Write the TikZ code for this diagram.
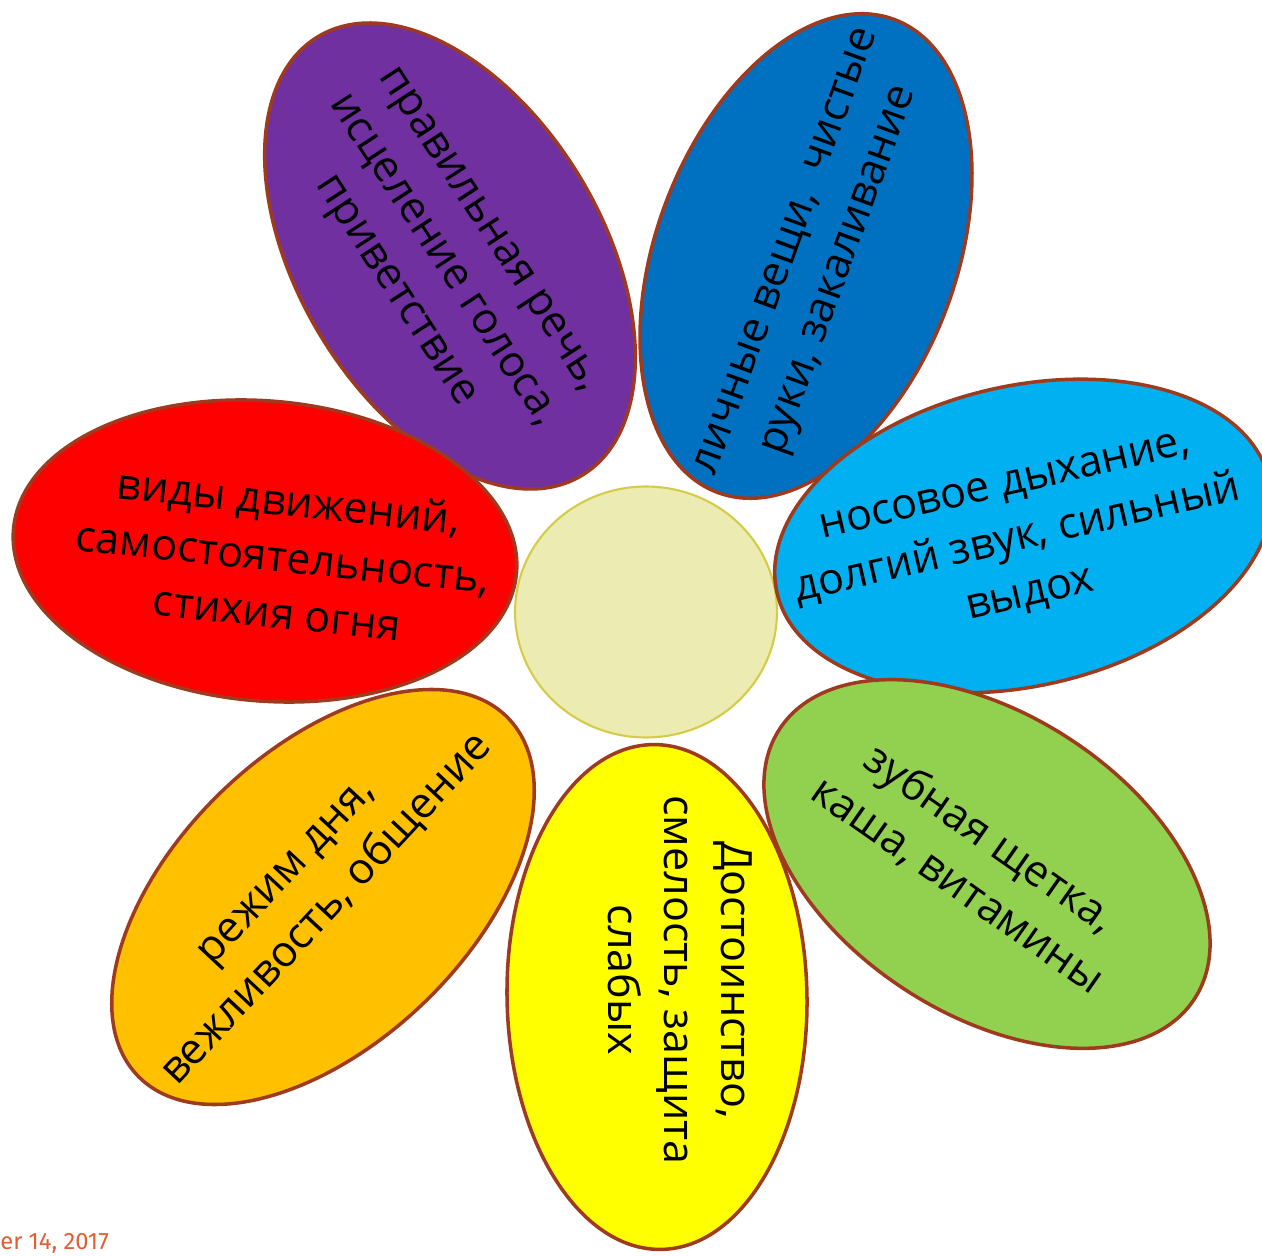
\documentclass[tikz,border=0pt]{standalone}
\usepackage{fontspec}
\setmainfont{Open Sans}
\newfontfamily\datefont{Fira Sans}
\usetikzlibrary{shapes.geometric}

\definecolor{petalrim}{RGB}{158,58,30}
\definecolor{corefill}{RGB}{236,235,178}
\definecolor{corerim}{RGB}{212,204,72}
\definecolor{speechviolet}{RGB}{112,48,160}
\definecolor{handsblue}{RGB}{0,112,192}
\definecolor{breathblue}{RGB}{0,176,240}
\definecolor{firered}{RGB}{255,0,0}
\definecolor{dayorange}{RGB}{255,192,0}
\definecolor{braveyellow}{RGB}{255,255,0}
\definecolor{teethgreen}{RGB}{146,208,80}
\definecolor{dateorange}{RGB}{226,93,51}

\begin{document}
\begin{tikzpicture}[x=0.02cm,y=-0.02cm,
    petal/.style={ellipse,draw=petalrim,line width=2pt,minimum width=10.1cm,minimum height=6cm,inner sep=0pt},
    petaltext/.style={align=center,inner sep=0pt,font=\fontsize{24.5}{32}\selectfont}]
  \useasboundingbox (0,0) rectangle (1262,1256);
  \node[ellipse,draw=corerim,fill=corefill,line width=1.2pt,minimum width=5.24cm,minimum height=5.02cm] (core) at (646,612) {}; % middle of the flower
  % petals
  \node[petal,fill=speechviolet,rotate=-59,minimum width=10.24cm,minimum height=6.08cm] (speech) at (450,256) {};
  \node[petal,fill=handsblue,rotate=69.5] (hands) at (806,256) {};
  \node[petal,fill=breathblue,rotate=13] (breath) at (1023,536) {};
  \node[petal,fill=teethgreen,rotate=-33,minimum width=9.9cm] (teeth) at (987,864) {};
  \node[petal,fill=braveyellow,rotate=-89] (brave) at (657,997) {};
  \node[petal,fill=dayorange,rotate=44,minimum width=10.3cm,minimum height=5.85cm] (day) at (323,897) {};
  \node[petal,fill=firered,rotate=-5] (fire) at (265,551) {};
  % texts on the petals
  \node[petaltext,rotate=-57] (speechtext) at (440,262) {правильная речь,\\исцеление голоса,\\приветствие};
  \node[petaltext,rotate=70] (handstext) at (816,262) {личные вещи,\ \ чистые\\руки, закаливание};
  \node[petaltext,rotate=13] (breathtext) at (1018,543) {носовое дыхание,\\долгий звук, сильный\\выдох};
  \node[petaltext,rotate=-35] (teethtext) at (974,862) {зубная щетка,\\каша, витамины};
  \node[petaltext,rotate=-90] (bravetext) at (680,980) {Достоинство,\\смелость, защита\\слабых};
  \node[petaltext,rotate=47] (daytext) at (309,893) {режим дня,\\вежливость, общение};
  \node[petaltext,rotate=-6] (firetext) at (283,556) {виды движений,\\самостоятельность,\\стихия огня};
  \node[anchor=base west,inner sep=0pt,text=dateorange,font=\datefont\fontsize{13.5}{15}\selectfont] (date) at (0,1249) {er 14, 2017};
\end{tikzpicture}
\end{document}
